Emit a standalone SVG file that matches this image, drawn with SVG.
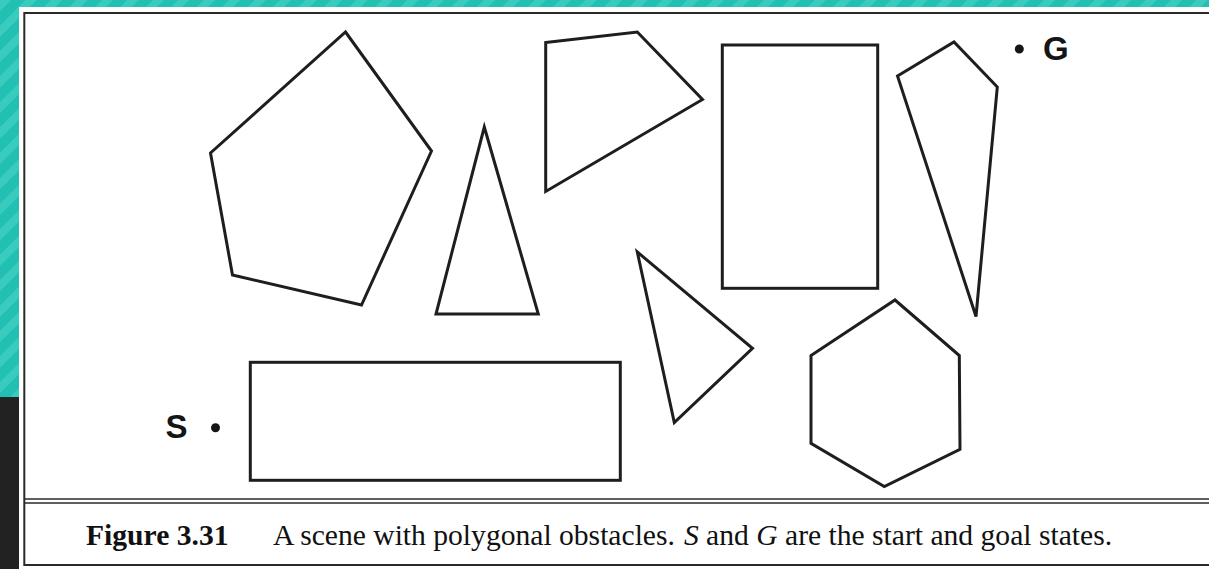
<svg xmlns="http://www.w3.org/2000/svg" width="1209" height="569" viewBox="0 0 1209 569">
  <defs>
    <pattern id="stripes" patternUnits="userSpaceOnUse" width="18" height="18" patternTransform="rotate(45)">
      <rect width="18" height="18" fill="#22c0b2"/>
      <rect width="8" height="18" fill="#38cbbe"/>
    </pattern>
    <style>
      .obstacle { fill: none; stroke: #1e1e1e; stroke-width: 3; stroke-linejoin: miter; }
      .frame { fill: none; stroke: #2a2a2a; }
      .label { font-family: "Liberation Sans", Arial, sans-serif; font-weight: bold; font-size: 33px; fill: #151515; }
      .caption { font-family: "Liberation Serif", "Times New Roman", serif; font-size: 29.6px; fill: #111; }
    </style>
  </defs>

  <!-- page background and slide edge -->
  <rect x="0" y="0" width="1209" height="569" fill="#ffffff"/>
  <rect x="0" y="0" width="1209" height="7" fill="url(#stripes)"/>
  <rect x="0" y="0" width="19" height="397" fill="url(#stripes)"/>
  <rect x="0" y="397" width="19" height="172" fill="#222222"/>

  <!-- figure frame -->
  <g id="frame">
    <line class="frame" x1="24.3" y1="13" x2="1209" y2="13" stroke-width="2"/>
    <line class="frame" x1="24.3" y1="12" x2="24.3" y2="566" stroke-width="2"/>
    <line class="frame" x1="24" y1="499" x2="1209" y2="499" stroke-width="1.6"/>
    <line class="frame" x1="24" y1="503" x2="1209" y2="503" stroke-width="1.6"/>
    <line class="frame" x1="24" y1="565" x2="1209" y2="565" stroke-width="2"/>
  </g>

  <!-- obstacles -->
  <g id="pentagon"><polygon class="obstacle" points="345.5,32 431.5,151 361.5,305 232.5,275 210.5,153"/></g>
  <g id="tall-triangle"><polygon class="obstacle" points="484.3,127 538.3,314 436,314"/></g>
  <g id="quadrilateral"><polygon class="obstacle" points="545.7,42.5 637.3,32 702.5,99.5 545.7,191.5"/></g>
  <g id="tall-rectangle"><rect class="obstacle" x="722.3" y="45" width="155.4" height="243.3"/></g>
  <g id="kite"><polygon class="obstacle" points="897.5,76 954,42 997.3,87 976,316.5"/></g>
  <g id="small-triangle"><polygon class="obstacle" points="637.3,252 752.5,348.3 674.3,422.5"/></g>
  <g id="hexagon"><polygon class="obstacle" points="895,300 959.3,355.5 960,449.3 884.3,486.5 811,443.3 811,355.5"/></g>
  <g id="wide-rectangle"><rect class="obstacle" x="250.3" y="362.3" width="370" height="118"/></g>

  <!-- start and goal -->
  <g id="start">
    <circle cx="215.5" cy="427.7" r="4.5" fill="#151515"/>
    <text class="label" x="165.5" y="437.5">S</text>
  </g>
  <g id="goal">
    <circle cx="1019.3" cy="49" r="4.5" fill="#151515"/>
    <text class="label" x="1043" y="60">G</text>
  </g>

  <!-- caption -->
  <g id="caption">
    <text class="caption" x="86" y="545" font-weight="bold">Figure 3.31</text>
    <text class="caption" x="273" y="545">A scene with polygonal obstacles.<tspan font-style="italic" dx="9">S</tspan> and <tspan font-style="italic">G</tspan> are the start and goal states.</text>
  </g>
</svg>
